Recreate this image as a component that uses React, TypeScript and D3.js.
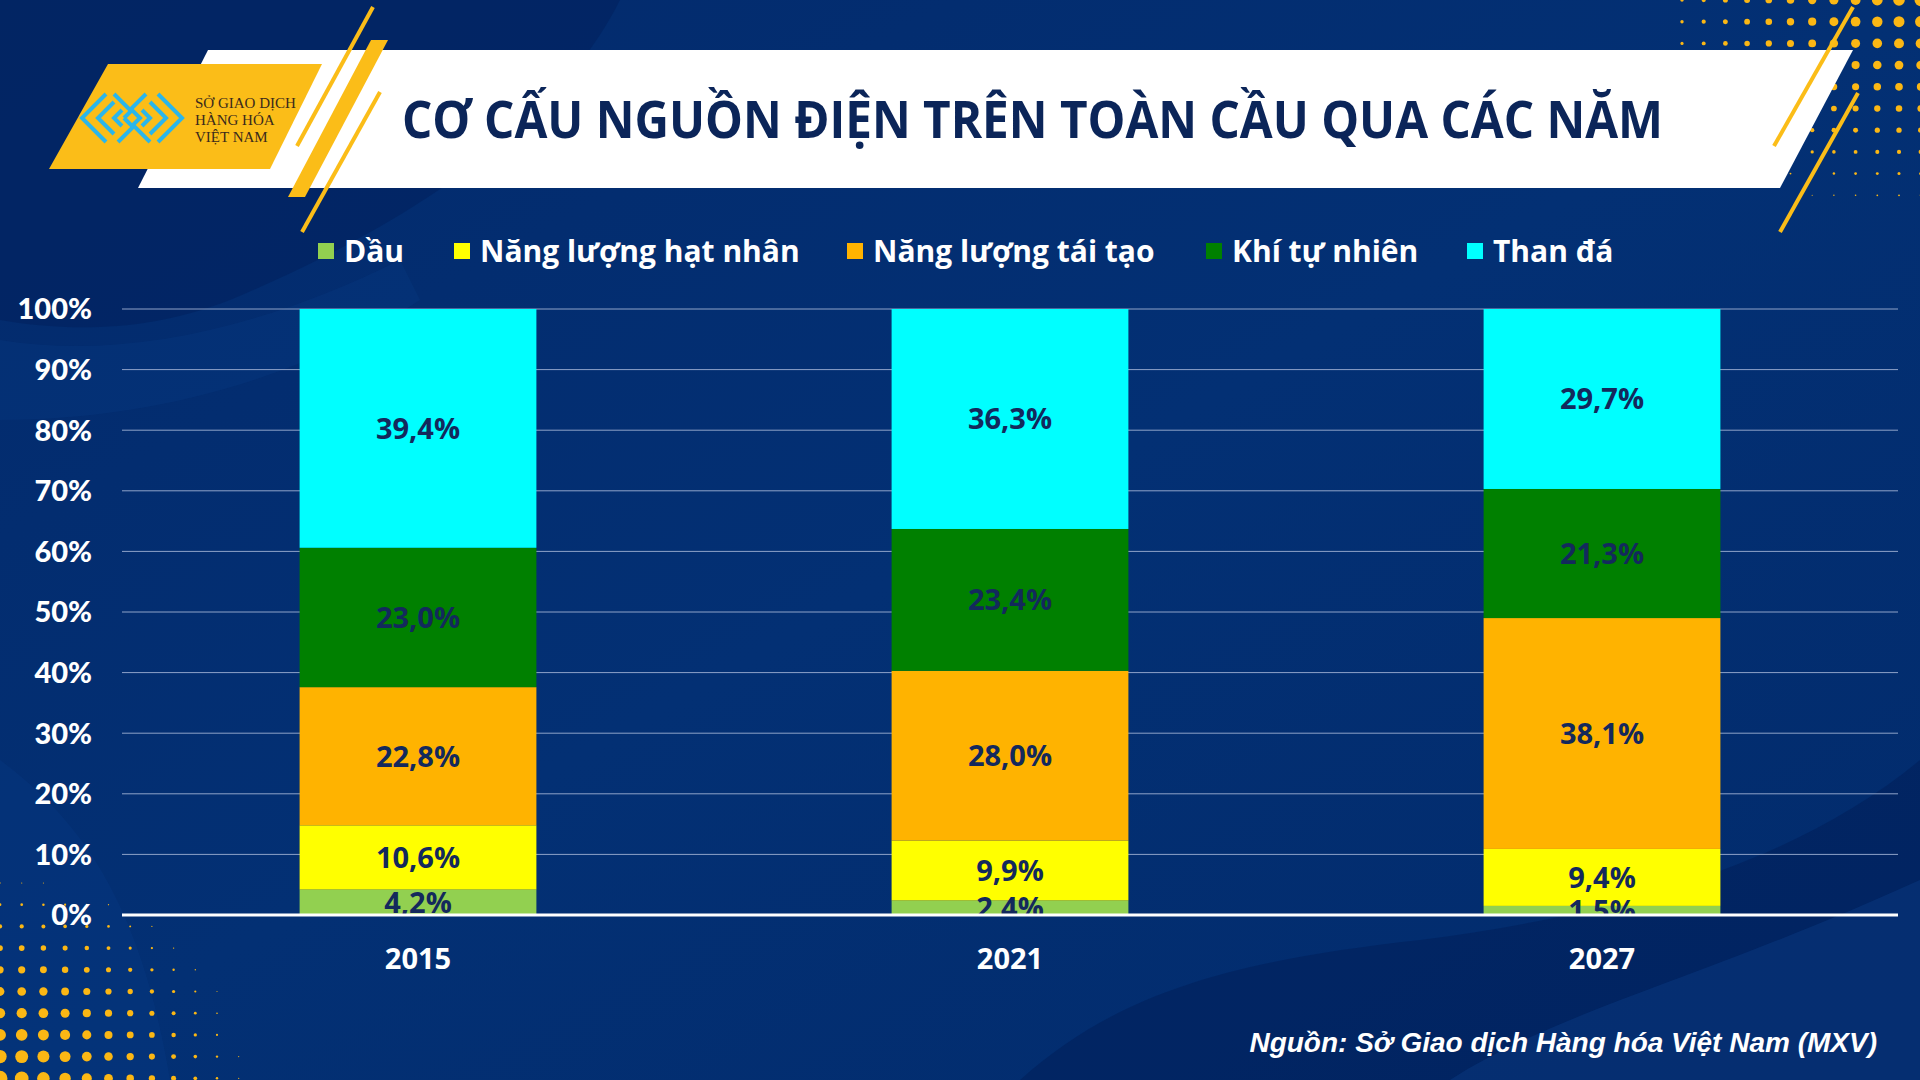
import React from "react";
import * as d3 from "d3";

const YEARS = ["2015", "2021", "2027"];
const SERIES = ["Dầu", "Năng lượng hạt nhân", "Năng lượng tái tạo", "Khí tự nhiên", "Than đá"];
const OIL = [4.2, 2.4, 1.5];
const NUCLEAR = [10.6, 9.9, 9.4];
const RENEWABLE = [22.8, 28.0, 38.1];
const GAS = [23.0, 23.4, 21.3];
const COAL = [39.4, 36.3, 29.7];
const Y_TICKS = [0, 10, 20, 30, 40, 50, 60, 70, 80, 90, 100];
const COLORS = ["#92d050", "#ffff00", "#ffb300", "#008000", "#00ffff"];
const TITLE = "CƠ CẤU NGUỒN ĐIỆN TRÊN TOÀN CẦU QUA CÁC NĂM";
const SOURCE = "Nguồn: Sở Giao dịch Hàng hóa Việt Nam (MXV)";

const W = 1920;
const H = 1080;
const PLOT = { left: 122, right: 1898, top: 309, bottom: 915 };
const LEGEND_X = [318, 454, 847, 1206, 1467];

const fmt = (v: number) => d3.format(".1f")(v).replace(".", ",") + "%";

function Dots({ ox, oy, rmax, fx, fy, x0, x1, y0, y1 }: any) {
  const out: any[] = [];
  for (let x = x0; x <= x1; x += 21.7) {
    for (let y = y0; y <= y1; y += 21.7) {
      const d = Math.sqrt(Math.pow((x - ox) / fx, 2) + Math.pow((y - oy) / fy, 2));
      const r = rmax * (1 - d);
      if (r > 0.5) out.push(<circle key={`${x}-${y}`} cx={x} cy={y} r={r} fill="#fbb714" />);
    }
  }
  return <g>{out}</g>;
}

function Logo() {
  const c = "#2bb6ea";
  const cx = 132, cy = 118;
  const lines: any[] = [];
  for (let i = 0; i < 3; i++) {
    const o = i * 8;
    lines.push(<polyline key={"l" + i} points={`${cx - 26 + o},${cy - 24 + o} ${cx - 50 + o + o},${cy} ${cx - 26 + o},${cy + 24 - o}`} />);
    lines.push(<polyline key={"r" + i} points={`${cx + 26 - o},${cy - 24 + o} ${cx + 50 - o - o},${cy} ${cx + 26 - o},${cy + 24 - o}`} />);
  }
  lines.push(<polyline key="m1" points={`${cx - 18},${cy - 24} ${cx - 2},${cy - 8} ${cx + 14},${cy - 24}`} />);
  lines.push(<polyline key="m2" points={`${cx - 14},${cy + 24} ${cx + 2},${cy + 8} ${cx + 18},${cy + 24}`} />);
  lines.push(<polyline key="m3" points={`${cx - 8},${cy} ${cx},${cy - 8} ${cx + 8},${cy} ${cx},${cy + 8} ${cx - 8},${cy}`} />);
  return (
    <g>
      <polygon points="108,64 322,64 270,169 49,169" fill="#fbbd18" />
      <g fill="none" stroke={c} strokeWidth={4} strokeLinejoin="miter">{lines}</g>
      <g fontFamily="'Liberation Serif', serif" fontSize={15} fill="#3a2a1c">
        <text x={195} y={108}>SỞ GIAO DỊCH</text>
        <text x={195} y={125}>HÀNG HÓA</text>
        <text x={195} y={142}>VIỆT NAM</text>
      </g>
    </g>
  );
}

export default function App() {
  const rows = YEARS.map((y, i) => ({
    year: y,
    s0: OIL[i],
    s1: NUCLEAR[i],
    s2: RENEWABLE[i],
    s3: GAS[i],
    s4: COAL[i],
  }));
  const keys = ["s0", "s1", "s2", "s3", "s4"];
  const stacked = d3.stack<any>().keys(keys)(rows);

  const x = d3
    .scaleBand<string>()
    .domain(YEARS)
    .range([PLOT.left, PLOT.right])
    .paddingInner(0.6)
    .paddingOuter(0.3);
  const y = d3.scaleLinear().domain([0, 100]).range([PLOT.bottom, PLOT.top]);

  return (
    <svg width={W} height={H} style={{ position: "absolute", left: 0, top: 0, display: "block" }}>
      <defs>
        <linearGradient id="bg" x1="0" y1="0" x2="1" y2="1">
          <stop offset="0" stopColor="#032a6c" />
          <stop offset="0.5" stopColor="#033074" />
          <stop offset="1" stopColor="#022b6c" />
        </linearGradient>
        <clipPath id="plotClip">
          <rect x={PLOT.left} y={PLOT.top - 10} width={PLOT.right - PLOT.left} height={PLOT.bottom - PLOT.top + 10} />
        </clipPath>
      </defs>
      <rect x={0} y={0} width={W} height={H} fill="url(#bg)" />
      {/* background waves */}
      <path d="M0,0 L620,0 C560,120 420,220 230,300 C140,335 60,330 0,320 Z" fill="#01215c" opacity={0.55} />
      <path d="M0,340 C120,360 260,330 400,260 L420,300 C300,380 150,420 0,420 Z" fill="#0a3a82" opacity={0.35} />
      <path d="M1020,1080 C1120,990 1240,960 1420,940 C1620,915 1800,860 1920,760 L1920,1080 Z" fill="#011f5a" opacity={0.55} />
      <path d="M1450,1080 C1560,1010 1700,980 1920,880 L1920,1080 Z" fill="#0b3c86" opacity={0.45} />
      <path d="M0,760 C80,820 140,900 170,1080 L0,1080 Z" fill="#0a3a84" opacity={0.35} />

      <Dots ox={1920} oy={0} fx={330} fy={230} rmax={6.2} x0={1682} x1={1925} y0={0} y1={230} />
      <Dots ox={0} oy={1080} fx={260} fy={215} rmax={7.5} x0={0} x1={280} y0={883} y1={1085} />

      {/* title banner */}
      <polygon points="208,50 1853,50 1780,188 138,188" fill="#ffffff" />
      <Logo />
      <line x1={373} y1={7} x2={297} y2={146} stroke="#fbbd18" strokeWidth={4} />
      <polygon points="371,40 388,40 305,197 288,197" fill="#fbbd18" />
      <line x1={380} y1={92} x2={302} y2={232} stroke="#fbbd18" strokeWidth={4} />
      <line x1={1853} y1={7} x2={1774} y2={146} stroke="#fbbd18" strokeWidth={4} />
      <line x1={1858} y1={93} x2={1780} y2={232} stroke="#fbbd18" strokeWidth={4} />
      <text x={402} y={138} fontFamily="'Open Sans', sans-serif" fontWeight={700} fontSize={52} fill="#0b2559"
        textLength={1261} lengthAdjust="spacingAndGlyphs">
        {TITLE}
      </text>

      {/* legend */}
      <g fontFamily="'Open Sans', sans-serif" fontWeight={700} fontSize={30} fill="#ffffff">
        {SERIES.map((s, i) => (
          <g key={s}>
            <rect x={LEGEND_X[i]} y={243} width={16} height={16} fill={COLORS[i]} />
            <text x={LEGEND_X[i] + 26} y={262}>{s}</text>
          </g>
        ))}
      </g>

      {/* gridlines */}
      <g>
        {Y_TICKS.filter((t) => t > 0).map((t) => (
          <line key={t} x1={PLOT.left} x2={PLOT.right} y1={y(t)} y2={y(t)} stroke="#8fa3c9" strokeWidth={1} />
        ))}
      </g>
      {/* y tick labels */}
      <g fontFamily="Lato, 'Open Sans', sans-serif" fontWeight={900} fontSize={29} fill="#ffffff" textAnchor="end">
        {Y_TICKS.map((t) => (
          <text key={t} x={92} y={y(t)} dy="0.36em">{t}%</text>
        ))}
      </g>

      {/* bars */}
      {stacked.map((layer, li) => (
        <g key={layer.key} fill={COLORS[li]}>
          {layer.map((d: any, i: number) => (
            <rect key={i} x={x(d.data.year)} width={x.bandwidth()} y={y(d[1])} height={y(d[0]) - y(d[1])} />
          ))}
        </g>
      ))}

      {/* bar labels */}
      <g clipPath="url(#plotClip)" fontFamily="'Open Sans', sans-serif" fontWeight={700} fontSize={29} fill="#13295c" textAnchor="middle">
        {stacked.map((layer) =>
          layer.map((d: any, i: number) => (
            <text key={layer.key + i} x={(x(d.data.year) as number) + x.bandwidth() / 2} y={y((d[0] + d[1]) / 2)} dy="0.36em">
              {fmt(d[1] - d[0])}
            </text>
          ))
        )}
      </g>
      {/* zero line */}
      <line x1={PLOT.left} x2={PLOT.right} y1={y(0)} y2={y(0)} stroke="#ffffff" strokeWidth={3} />

      {/* x labels */}
      <g fontFamily="'Open Sans', sans-serif" fontWeight={700} fontSize={29} fill="#ffffff" textAnchor="middle">
        {YEARS.map((yr) => (
          <text key={yr} x={(x(yr) as number) + x.bandwidth() / 2} y={969}>{yr}</text>
        ))}
      </g>

      <text x={1877} y={1052} textAnchor="end" fontFamily="'Liberation Sans', Arial, sans-serif" fontStyle="italic" fontWeight={700} fontSize={28} fill="#ffffff">
        {SOURCE}
      </text>
    </svg>
  );
}
